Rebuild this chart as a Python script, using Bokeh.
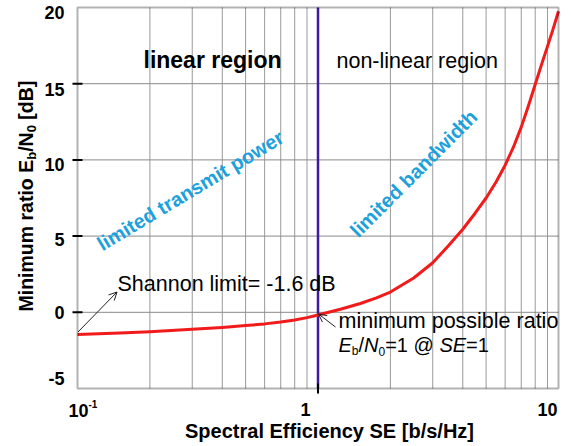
import math
from bokeh.plotting import figure
from bokeh.models import Range1d, Label, Arrow, OpenHead, BoxAnnotation
from bokeh.embed import file_html
from bokeh.resources import INLINE

# ---------------- data ----------------
SE = [0.1, 0.15, 0.2, 0.3, 0.4, 0.5, 0.6, 0.7, 0.8, 0.9, 1.0, 1.25, 1.5, 1.75,
      2.0, 2.5, 3.0, 3.5, 4.0, 4.5, 5.0, 5.5, 6.0, 6.5, 7.0, 7.5, 8.0, 8.5,
      9.0, 9.5, 10.0]
EBN0_DB = [-1.45, -1.36, -1.27, -1.12, -0.99, -0.87, -0.76, -0.64, -0.50,
           -0.35, -0.18, 0.22, 0.58, 0.95, 1.33, 2.25, 3.25, 4.40, 5.45, 6.50,
           7.50, 8.55, 9.65, 10.85, 12.15, 13.55, 14.95, 16.25, 17.45, 18.60,
           19.75]
SE_MARK = [1.0]
X_MIN, X_MAX = 0.1, 10
Y_MIN, Y_MAX = -5, 20
X_TICKS = [1]
X_GRID = [0.2, 0.3, 0.4, 0.5, 0.6, 0.7, 0.8, 0.9, 2, 3, 4, 5, 6, 7, 8, 9]
Y_TICKS = [0, 5, 10, 15]
Y_GRID = [0, 5, 10, 15]
Y_TICK_VALUES = [-5, 0, 5, 10, 15, 20]
Y_TICK_LABELS = ["-5", "0", "5", "10", "15", "20"]

FONT = "Liberation Sans"
W, H = 571, 446
FL, FR, FT, FB = 77, 558, 7, 388  # plot-box edges in pixels


def X(px):
    return 10 ** (math.log10(X_MIN) + math.log10(X_MAX / X_MIN) * (px - FL) / (FR - FL))


def Y(py):
    return Y_MAX - (Y_MAX - Y_MIN) * (py - FT) / (FB - FT)


# the frame fills the whole canvas; the plot box is drawn inside it
p = figure(width=W, height=H, x_axis_type="log",
           x_range=Range1d(X(0), X(W)), y_range=Range1d(Y(H), Y(0)),
           output_backend="svg", toolbar_location=None, title=None,
           x_axis_location=None, y_axis_location=None,
           min_border_left=0, min_border_right=0,
           min_border_top=0, min_border_bottom=0)
p.background_fill_color = "white"
p.border_fill_color = "white"
p.outline_line_color = None
p.grid.visible = False

# grid lines
p.segment(x0=X_GRID, y0=Y_MIN, x1=X_GRID, y1=Y_MAX,
          line_color="#9a9a9a", line_width=1)
p.segment(x0=X_MIN, y0=Y_GRID, x1=X_MAX, y1=Y_GRID,
          line_color="#8a8a8a", line_width=1)

# SE = 1 marker line and the Shannon curve
p.segment(x0=SE_MARK, y0=Y_MIN, x1=SE_MARK, y1=Y_MAX,
          line_color="#3d1a9e", line_width=2.5)
p.line(SE, EBN0_DB, line_color="#f21b1b", line_width=3, line_join="round")

# plot box and ticks
p.add_layout(BoxAnnotation(left=X_MIN, right=X_MAX, bottom=Y_MIN, top=Y_MAX,
                           fill_color=None, line_color="black", line_width=2))
p.segment(x0=X(72), y0=Y_TICKS, x1=X(82), y1=Y_TICKS,
          line_color="black", line_width=2)
p.segment(x0=X_TICKS, y0=Y(383), x1=X_TICKS, y1=Y(393),
          line_color="black", line_width=2)

UP = 0.35  # baseline -> middle of the text, in em


def lab(text, px, py, size, style="normal", color="black", align="left",
        angle=0.0):
    # (px, py): alphabetic baseline start in picture pixels
    a = math.radians(angle)
    d = UP * size
    mx = px - math.sin(a) * d
    my = py - math.cos(a) * d
    p.add_layout(Label(x=X(mx), y=Y(my), text=text, text_font=FONT,
                       text_font_size=f"{size}px", text_font_style=style,
                       text_color=color, text_align=align,
                       text_baseline="middle", angle=angle,
                       angle_units="deg"))


# tick labels
Y_BASE = {-5: 384, 0: 318, 5: 245, 10: 170, 15: 95, 20: 18}
for val, txt in zip(Y_TICK_VALUES, Y_TICK_LABELS):
    lab(txt, 64, Y_BASE[val], 18, "bold", align="right")
lab("10", 68, 416, 18, "bold")
lab("-1", 88, 407, 10, "bold")
lab("1", 305, 415, 18, "bold", align="center")
lab("10", 547, 415, 18, "bold", align="center")

# axis titles
lab("Spectral Efficiency SE [b/s/Hz]", 329, 437, 20, "bold", align="center")
ylab = [("Minimum ratio E", 19.5, 7.779, False),
        ("b", 13, 0.611, True),
        ("/N", 19.5, 1.0, False),
        ("0", 13, 0.556, True),
        ("[dB]", 19.5, 2.277, False)]
py = 311.0
for txt, sz, em, sub in ylab:
    if txt.startswith("["):
        py -= 0.278 * 19.5
        em -= 0.278
    lab(txt, 36 if sub else 32, py, sz, "bold", angle=90)
    py -= em * sz

# region texts
lab("linear region", 143, 68, 23, "bold")
lab("non-linear region", 336, 68, 21.5)
lab("limited transmit power", 102, 251, 20, "bold", color="#1da1dc", angle=31)
lab("limited bandwidth", 358, 238, 20, "bold", color="#1da1dc", angle=45)

# Shannon limit annotation
lab("Shannon limit= -1.6 dB", 117, 291, 21.5)
p.add_layout(Arrow(x_start=X(77.5), y_start=Y(331.5), x_end=X(116.5), y_end=Y(291.5),
                   line_color="#222222", line_width=1,
                   end=OpenHead(size=8, line_color="#222222", line_width=1)))

# minimum possible ratio annotation
lab("minimum possible ratio", 338, 328, 21.5)
line2 = [("E", 20, 0.667, "italic", 0), ("b", 12, 0.556, "normal", 4),
         ("/", 20, 0.278, "normal", 0), ("N", 20, 0.722, "italic", 0),
         ("0", 12, 0.556, "normal", 4), ("=1 @", 20, 2.711, "normal", 0),
         ("SE", 20, 1.334, "italic", 0), ("=1", 20, 1.14, "normal", 0)]
px = 338.0
for txt, sz, em, st, dy in line2:
    lab(txt, px, 351 + dy, sz, st)
    px += em * sz
p.add_layout(Arrow(x_start=X(335), y_start=Y(326.5), x_end=X(318), y_end=Y(313.5),
                   line_color="#222222", line_width=1,
                   end=OpenHead(size=8, line_color="#222222", line_width=1)))

open("out.html", "w").write(file_html(p, INLINE))
